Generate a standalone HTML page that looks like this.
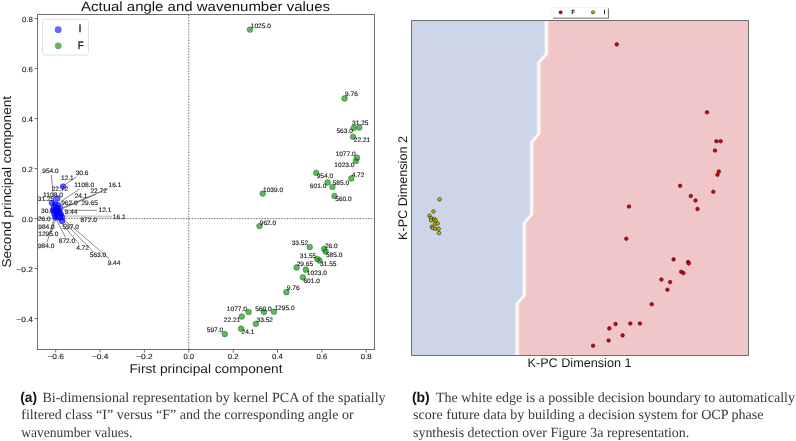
<!DOCTYPE html>
<html><head><meta charset="utf-8"><style>
html,body{margin:0;padding:0;background:#fff;}
body{width:796px;height:441px;position:relative;overflow:hidden;font-family:"Liberation Sans",sans-serif;}
svg{position:absolute;left:0;top:0;will-change:transform;} text{text-rendering:geometricPrecision;}
</style></head><body>
<svg width="796" height="441" viewBox="0 0 796 441" font-family="Liberation Sans, sans-serif">
<rect width="796" height="441" fill="#fff"/>
<text x="205.50" y="10.70" text-anchor="middle" font-size="13.46" fill="#141414" textLength="249.00" lengthAdjust="spacingAndGlyphs">Actual angle and wavenumber values</text>
<line x1="188.8" y1="14.5" x2="188.8" y2="349.5" stroke="#5a5a5a" stroke-width="0.85" stroke-dasharray="1.5,1.3"/>
<line x1="37.5" y1="218.6" x2="374.5" y2="218.6" stroke="#5a5a5a" stroke-width="0.85" stroke-dasharray="1.5,1.3"/>
<circle cx="250" cy="29.6" r="2.85" fill="rgb(0,128,0)" fill-opacity="0.6" stroke="rgb(0,128,0)" stroke-opacity="0.6" stroke-width="0.75"/>
<circle cx="344.6" cy="98.4" r="2.85" fill="rgb(0,128,0)" fill-opacity="0.6" stroke="rgb(0,128,0)" stroke-opacity="0.6" stroke-width="0.75"/>
<circle cx="353.8" cy="127.9" r="2.85" fill="rgb(0,128,0)" fill-opacity="0.6" stroke="rgb(0,128,0)" stroke-opacity="0.6" stroke-width="0.75"/>
<circle cx="359.3" cy="127.6" r="2.85" fill="rgb(0,128,0)" fill-opacity="0.6" stroke="rgb(0,128,0)" stroke-opacity="0.6" stroke-width="0.75"/>
<circle cx="353" cy="136.8" r="2.85" fill="rgb(0,128,0)" fill-opacity="0.6" stroke="rgb(0,128,0)" stroke-opacity="0.6" stroke-width="0.75"/>
<circle cx="357" cy="157.7" r="2.85" fill="rgb(0,128,0)" fill-opacity="0.6" stroke="rgb(0,128,0)" stroke-opacity="0.6" stroke-width="0.75"/>
<circle cx="356" cy="161" r="2.85" fill="rgb(0,128,0)" fill-opacity="0.6" stroke="rgb(0,128,0)" stroke-opacity="0.6" stroke-width="0.75"/>
<circle cx="351.3" cy="178.4" r="2.85" fill="rgb(0,128,0)" fill-opacity="0.6" stroke="rgb(0,128,0)" stroke-opacity="0.6" stroke-width="0.75"/>
<circle cx="316.2" cy="172.8" r="2.85" fill="rgb(0,128,0)" fill-opacity="0.6" stroke="rgb(0,128,0)" stroke-opacity="0.6" stroke-width="0.75"/>
<circle cx="327.6" cy="182.4" r="2.85" fill="rgb(0,128,0)" fill-opacity="0.6" stroke="rgb(0,128,0)" stroke-opacity="0.6" stroke-width="0.75"/>
<circle cx="332.4" cy="187" r="2.85" fill="rgb(0,128,0)" fill-opacity="0.6" stroke="rgb(0,128,0)" stroke-opacity="0.6" stroke-width="0.75"/>
<circle cx="334.4" cy="196" r="2.85" fill="rgb(0,128,0)" fill-opacity="0.6" stroke="rgb(0,128,0)" stroke-opacity="0.6" stroke-width="0.75"/>
<circle cx="262.7" cy="193.6" r="2.85" fill="rgb(0,128,0)" fill-opacity="0.6" stroke="rgb(0,128,0)" stroke-opacity="0.6" stroke-width="0.75"/>
<circle cx="259.5" cy="226" r="2.85" fill="rgb(0,128,0)" fill-opacity="0.6" stroke="rgb(0,128,0)" stroke-opacity="0.6" stroke-width="0.75"/>
<circle cx="309.7" cy="247" r="2.85" fill="rgb(0,128,0)" fill-opacity="0.6" stroke="rgb(0,128,0)" stroke-opacity="0.6" stroke-width="0.75"/>
<circle cx="324.2" cy="248.8" r="2.85" fill="rgb(0,128,0)" fill-opacity="0.6" stroke="rgb(0,128,0)" stroke-opacity="0.6" stroke-width="0.75"/>
<circle cx="325.6" cy="251.5" r="2.85" fill="rgb(0,128,0)" fill-opacity="0.6" stroke="rgb(0,128,0)" stroke-opacity="0.6" stroke-width="0.75"/>
<circle cx="317.4" cy="259" r="2.85" fill="rgb(0,128,0)" fill-opacity="0.6" stroke="rgb(0,128,0)" stroke-opacity="0.6" stroke-width="0.75"/>
<circle cx="319.5" cy="260.6" r="2.85" fill="rgb(0,128,0)" fill-opacity="0.6" stroke="rgb(0,128,0)" stroke-opacity="0.6" stroke-width="0.75"/>
<circle cx="296.6" cy="267.4" r="2.85" fill="rgb(0,128,0)" fill-opacity="0.6" stroke="rgb(0,128,0)" stroke-opacity="0.6" stroke-width="0.75"/>
<circle cx="305.9" cy="269.7" r="2.85" fill="rgb(0,128,0)" fill-opacity="0.6" stroke="rgb(0,128,0)" stroke-opacity="0.6" stroke-width="0.75"/>
<circle cx="302.9" cy="277.3" r="2.85" fill="rgb(0,128,0)" fill-opacity="0.6" stroke="rgb(0,128,0)" stroke-opacity="0.6" stroke-width="0.75"/>
<circle cx="286.4" cy="292.2" r="2.85" fill="rgb(0,128,0)" fill-opacity="0.6" stroke="rgb(0,128,0)" stroke-opacity="0.6" stroke-width="0.75"/>
<circle cx="248.6" cy="312" r="2.85" fill="rgb(0,128,0)" fill-opacity="0.6" stroke="rgb(0,128,0)" stroke-opacity="0.6" stroke-width="0.75"/>
<circle cx="264" cy="312" r="2.85" fill="rgb(0,128,0)" fill-opacity="0.6" stroke="rgb(0,128,0)" stroke-opacity="0.6" stroke-width="0.75"/>
<circle cx="273.9" cy="311.7" r="2.85" fill="rgb(0,128,0)" fill-opacity="0.6" stroke="rgb(0,128,0)" stroke-opacity="0.6" stroke-width="0.75"/>
<circle cx="241.8" cy="316.5" r="2.85" fill="rgb(0,128,0)" fill-opacity="0.6" stroke="rgb(0,128,0)" stroke-opacity="0.6" stroke-width="0.75"/>
<circle cx="255.8" cy="323.8" r="2.85" fill="rgb(0,128,0)" fill-opacity="0.6" stroke="rgb(0,128,0)" stroke-opacity="0.6" stroke-width="0.75"/>
<circle cx="241.1" cy="328.7" r="2.85" fill="rgb(0,128,0)" fill-opacity="0.6" stroke="rgb(0,128,0)" stroke-opacity="0.6" stroke-width="0.75"/>
<circle cx="224.8" cy="334.1" r="2.85" fill="rgb(0,128,0)" fill-opacity="0.6" stroke="rgb(0,128,0)" stroke-opacity="0.6" stroke-width="0.75"/>
<text x="250.75" y="27.90" font-size="6.44" fill="#1e1e1e" textLength="20.12" lengthAdjust="spacingAndGlyphs" stroke="#1e1e1e" stroke-width="0.15">1025.0</text>
<text x="345.05" y="96.00" font-size="6.44" fill="#1e1e1e" textLength="12.80" lengthAdjust="spacingAndGlyphs" stroke="#1e1e1e" stroke-width="0.15">9.76</text>
<text x="352.05" y="125.30" font-size="6.44" fill="#1e1e1e" textLength="16.46" lengthAdjust="spacingAndGlyphs" stroke="#1e1e1e" stroke-width="0.15">31.25</text>
<text x="336.45" y="132.80" font-size="6.44" fill="#1e1e1e" textLength="16.46" lengthAdjust="spacingAndGlyphs" stroke="#1e1e1e" stroke-width="0.15">563.0</text>
<text x="353.75" y="142.40" font-size="6.44" fill="#1e1e1e" textLength="16.46" lengthAdjust="spacingAndGlyphs" stroke="#1e1e1e" stroke-width="0.15">22.21</text>
<text x="335.55" y="156.30" font-size="6.44" fill="#1e1e1e" textLength="20.12" lengthAdjust="spacingAndGlyphs" stroke="#1e1e1e" stroke-width="0.15">1077.0</text>
<text x="334.35" y="166.50" font-size="6.44" fill="#1e1e1e" textLength="20.12" lengthAdjust="spacingAndGlyphs" stroke="#1e1e1e" stroke-width="0.15">1023.0</text>
<text x="351.65" y="176.70" font-size="6.44" fill="#1e1e1e" textLength="12.80" lengthAdjust="spacingAndGlyphs" stroke="#1e1e1e" stroke-width="0.15">4.72</text>
<text x="316.65" y="177.70" font-size="6.44" fill="#1e1e1e" textLength="16.46" lengthAdjust="spacingAndGlyphs" stroke="#1e1e1e" stroke-width="0.15">954.0</text>
<text x="309.85" y="188.10" font-size="6.44" fill="#1e1e1e" textLength="16.46" lengthAdjust="spacingAndGlyphs" stroke="#1e1e1e" stroke-width="0.15">601.0</text>
<text x="332.65" y="185.40" font-size="6.44" fill="#1e1e1e" textLength="16.46" lengthAdjust="spacingAndGlyphs" stroke="#1e1e1e" stroke-width="0.15">585.0</text>
<text x="335.15" y="201.00" font-size="6.44" fill="#1e1e1e" textLength="16.46" lengthAdjust="spacingAndGlyphs" stroke="#1e1e1e" stroke-width="0.15">560.0</text>
<text x="263.05" y="191.60" font-size="6.44" fill="#1e1e1e" textLength="20.12" lengthAdjust="spacingAndGlyphs" stroke="#1e1e1e" stroke-width="0.15">1039.0</text>
<text x="259.75" y="224.70" font-size="6.44" fill="#1e1e1e" textLength="16.46" lengthAdjust="spacingAndGlyphs" stroke="#1e1e1e" stroke-width="0.15">962.0</text>
<text x="291.65" y="245.20" font-size="6.44" fill="#1e1e1e" textLength="16.46" lengthAdjust="spacingAndGlyphs" stroke="#1e1e1e" stroke-width="0.15">33.52</text>
<text x="324.95" y="247.70" font-size="6.44" fill="#1e1e1e" textLength="12.80" lengthAdjust="spacingAndGlyphs" stroke="#1e1e1e" stroke-width="0.15">26.0</text>
<text x="325.95" y="256.50" font-size="6.44" fill="#1e1e1e" textLength="16.46" lengthAdjust="spacingAndGlyphs" stroke="#1e1e1e" stroke-width="0.15">585.0</text>
<text x="299.75" y="257.90" font-size="6.44" fill="#1e1e1e" textLength="16.46" lengthAdjust="spacingAndGlyphs" stroke="#1e1e1e" stroke-width="0.15">31.55</text>
<text x="320.05" y="265.60" font-size="6.44" fill="#1e1e1e" textLength="16.46" lengthAdjust="spacingAndGlyphs" stroke="#1e1e1e" stroke-width="0.15">31.55</text>
<text x="296.65" y="265.60" font-size="6.44" fill="#1e1e1e" textLength="16.46" lengthAdjust="spacingAndGlyphs" stroke="#1e1e1e" stroke-width="0.15">29.65</text>
<text x="306.85" y="274.90" font-size="6.44" fill="#1e1e1e" textLength="20.12" lengthAdjust="spacingAndGlyphs" stroke="#1e1e1e" stroke-width="0.15">1023.0</text>
<text x="303.45" y="282.70" font-size="6.44" fill="#1e1e1e" textLength="16.46" lengthAdjust="spacingAndGlyphs" stroke="#1e1e1e" stroke-width="0.15">601.0</text>
<text x="286.75" y="290.20" font-size="6.44" fill="#1e1e1e" textLength="12.80" lengthAdjust="spacingAndGlyphs" stroke="#1e1e1e" stroke-width="0.15">9.76</text>
<text x="226.85" y="310.60" font-size="6.44" fill="#1e1e1e" textLength="20.12" lengthAdjust="spacingAndGlyphs" stroke="#1e1e1e" stroke-width="0.15">1077.0</text>
<text x="255.15" y="310.60" font-size="6.44" fill="#1e1e1e" textLength="16.46" lengthAdjust="spacingAndGlyphs" stroke="#1e1e1e" stroke-width="0.15">560.0</text>
<text x="274.45" y="309.70" font-size="6.44" fill="#1e1e1e" textLength="20.12" lengthAdjust="spacingAndGlyphs" stroke="#1e1e1e" stroke-width="0.15">1295.0</text>
<text x="223.85" y="321.50" font-size="6.44" fill="#1e1e1e" textLength="16.46" lengthAdjust="spacingAndGlyphs" stroke="#1e1e1e" stroke-width="0.15">22.21</text>
<text x="256.55" y="321.50" font-size="6.44" fill="#1e1e1e" textLength="16.46" lengthAdjust="spacingAndGlyphs" stroke="#1e1e1e" stroke-width="0.15">33.52</text>
<text x="241.55" y="334.00" font-size="6.44" fill="#1e1e1e" textLength="12.80" lengthAdjust="spacingAndGlyphs" stroke="#1e1e1e" stroke-width="0.15">24.1</text>
<text x="206.75" y="332.40" font-size="6.44" fill="#1e1e1e" textLength="16.46" lengthAdjust="spacingAndGlyphs" stroke="#1e1e1e" stroke-width="0.15">597.0</text>
<text x="42.25" y="172.70" font-size="6.44" fill="#1e1e1e" textLength="16.46" lengthAdjust="spacingAndGlyphs" stroke="#1e1e1e" stroke-width="0.15">954.0</text>
<text x="75.65" y="175.00" font-size="6.44" fill="#1e1e1e" textLength="12.80" lengthAdjust="spacingAndGlyphs" stroke="#1e1e1e" stroke-width="0.15">30.6</text>
<text x="60.95" y="179.80" font-size="6.44" fill="#1e1e1e" textLength="12.80" lengthAdjust="spacingAndGlyphs" stroke="#1e1e1e" stroke-width="0.15">12.1</text>
<text x="74.25" y="186.70" font-size="6.44" fill="#1e1e1e" textLength="20.12" lengthAdjust="spacingAndGlyphs" stroke="#1e1e1e" stroke-width="0.15">1108.0</text>
<text x="108.55" y="187.00" font-size="6.44" fill="#1e1e1e" textLength="12.80" lengthAdjust="spacingAndGlyphs" stroke="#1e1e1e" stroke-width="0.15">16.1</text>
<text x="51.65" y="190.80" font-size="6.44" fill="#1e1e1e" textLength="16.46" lengthAdjust="spacingAndGlyphs" stroke="#1e1e1e" stroke-width="0.15">22.72</text>
<text x="90.45" y="193.40" font-size="6.44" fill="#1e1e1e" textLength="16.46" lengthAdjust="spacingAndGlyphs" stroke="#1e1e1e" stroke-width="0.15">22.72</text>
<text x="42.95" y="196.60" font-size="6.44" fill="#1e1e1e" textLength="20.12" lengthAdjust="spacingAndGlyphs" stroke="#1e1e1e" stroke-width="0.15">1108.0</text>
<text x="74.65" y="198.40" font-size="6.44" fill="#1e1e1e" textLength="12.80" lengthAdjust="spacingAndGlyphs" stroke="#1e1e1e" stroke-width="0.15">24.1</text>
<text x="37.75" y="201.10" font-size="6.44" fill="#1e1e1e" textLength="16.46" lengthAdjust="spacingAndGlyphs" stroke="#1e1e1e" stroke-width="0.15">31.25</text>
<text x="61.15" y="204.80" font-size="6.44" fill="#1e1e1e" textLength="16.46" lengthAdjust="spacingAndGlyphs" stroke="#1e1e1e" stroke-width="0.15">962.0</text>
<text x="81.45" y="204.70" font-size="6.44" fill="#1e1e1e" textLength="16.46" lengthAdjust="spacingAndGlyphs" stroke="#1e1e1e" stroke-width="0.15">29.65</text>
<text x="98.55" y="211.70" font-size="6.44" fill="#1e1e1e" textLength="12.80" lengthAdjust="spacingAndGlyphs" stroke="#1e1e1e" stroke-width="0.15">12.1</text>
<text x="41.05" y="213.10" font-size="6.44" fill="#1e1e1e" textLength="12.80" lengthAdjust="spacingAndGlyphs" stroke="#1e1e1e" stroke-width="0.15">30.6</text>
<text x="64.65" y="213.80" font-size="6.44" fill="#1e1e1e" textLength="12.80" lengthAdjust="spacingAndGlyphs" stroke="#1e1e1e" stroke-width="0.15">9.44</text>
<text x="112.85" y="218.60" font-size="6.44" fill="#1e1e1e" textLength="12.80" lengthAdjust="spacingAndGlyphs" stroke="#1e1e1e" stroke-width="0.15">16.1</text>
<text x="80.45" y="221.80" font-size="6.44" fill="#1e1e1e" textLength="16.46" lengthAdjust="spacingAndGlyphs" stroke="#1e1e1e" stroke-width="0.15">872.0</text>
<text x="37.95" y="220.90" font-size="6.44" fill="#1e1e1e" textLength="12.80" lengthAdjust="spacingAndGlyphs" stroke="#1e1e1e" stroke-width="0.15">26.0</text>
<text x="38.25" y="228.60" font-size="6.44" fill="#1e1e1e" textLength="16.46" lengthAdjust="spacingAndGlyphs" stroke="#1e1e1e" stroke-width="0.15">984.0</text>
<text x="62.55" y="229.20" font-size="6.44" fill="#1e1e1e" textLength="16.46" lengthAdjust="spacingAndGlyphs" stroke="#1e1e1e" stroke-width="0.15">597.0</text>
<text x="38.25" y="235.50" font-size="6.44" fill="#1e1e1e" textLength="20.12" lengthAdjust="spacingAndGlyphs" stroke="#1e1e1e" stroke-width="0.15">1295.0</text>
<text x="58.75" y="243.20" font-size="6.44" fill="#1e1e1e" textLength="16.46" lengthAdjust="spacingAndGlyphs" stroke="#1e1e1e" stroke-width="0.15">872.0</text>
<text x="37.95" y="247.70" font-size="6.44" fill="#1e1e1e" textLength="16.46" lengthAdjust="spacingAndGlyphs" stroke="#1e1e1e" stroke-width="0.15">984.0</text>
<text x="76.15" y="250.10" font-size="6.44" fill="#1e1e1e" textLength="12.80" lengthAdjust="spacingAndGlyphs" stroke="#1e1e1e" stroke-width="0.15">4.72</text>
<text x="89.75" y="257.40" font-size="6.44" fill="#1e1e1e" textLength="16.46" lengthAdjust="spacingAndGlyphs" stroke="#1e1e1e" stroke-width="0.15">563.0</text>
<text x="107.65" y="264.70" font-size="6.44" fill="#1e1e1e" textLength="12.80" lengthAdjust="spacingAndGlyphs" stroke="#1e1e1e" stroke-width="0.15">9.44</text>
<line x1="112" y1="216.2" x2="64" y2="215.8" stroke="#8a8a8a" stroke-width="0.5"/>
<line x1="112" y1="217.2" x2="64" y2="216.9" stroke="#9a9a9a" stroke-width="0.5"/>
<line x1="79.5" y1="189" x2="61" y2="201.5" stroke="#2a2a2a" stroke-width="0.55"/>
<line x1="108" y1="188.7" x2="63" y2="207.5" stroke="#2a2a2a" stroke-width="0.55"/>
<line x1="95.8" y1="194.3" x2="63" y2="208.5" stroke="#2a2a2a" stroke-width="0.55"/>
<line x1="96.8" y1="210.3" x2="64" y2="210.3" stroke="#2a2a2a" stroke-width="0.55"/>
<line x1="76.4" y1="176.8" x2="63.3" y2="185.8" stroke="#2a2a2a" stroke-width="0.55"/>
<line x1="51.3" y1="175" x2="53.5" y2="199" stroke="#2a2a2a" stroke-width="0.55"/>
<line x1="109.8" y1="259.2" x2="62" y2="218" stroke="#2a2a2a" stroke-width="0.55"/>
<line x1="94.1" y1="252.4" x2="60" y2="218" stroke="#2a2a2a" stroke-width="0.55"/>
<line x1="79.2" y1="244.3" x2="58" y2="219" stroke="#2a2a2a" stroke-width="0.55"/>
<line x1="65.6" y1="237.4" x2="56" y2="219" stroke="#2a2a2a" stroke-width="0.55"/>
<line x1="47.2" y1="242" x2="54" y2="219" stroke="#2a2a2a" stroke-width="0.55"/>
<line x1="50.6" y1="233.6" x2="55.5" y2="219" stroke="#2a2a2a" stroke-width="0.55"/>
<ellipse cx="57" cy="211" rx="4.2" ry="6.5" transform="rotate(-15 57 211)" fill="#0000a0" fill-opacity="0.5"/>
<circle cx="63" cy="186.6" r="2.85" fill="rgb(0,0,255)" fill-opacity="0.6" stroke="rgb(0,0,255)" stroke-opacity="0.6" stroke-width="0.75"/>
<circle cx="57.3" cy="198.4" r="2.85" fill="rgb(0,0,255)" fill-opacity="0.6" stroke="rgb(0,0,255)" stroke-opacity="0.6" stroke-width="0.75"/>
<circle cx="51.9" cy="202.8" r="2.85" fill="rgb(0,0,255)" fill-opacity="0.6" stroke="rgb(0,0,255)" stroke-opacity="0.6" stroke-width="0.75"/>
<circle cx="62" cy="220.9" r="2.85" fill="rgb(0,0,255)" fill-opacity="0.6" stroke="rgb(0,0,255)" stroke-opacity="0.6" stroke-width="0.75"/>
<circle cx="55" cy="204" r="2.85" fill="rgb(0,0,255)" fill-opacity="0.6" stroke="rgb(0,0,255)" stroke-opacity="0.6" stroke-width="0.75"/>
<circle cx="58" cy="205" r="2.85" fill="rgb(0,0,255)" fill-opacity="0.6" stroke="rgb(0,0,255)" stroke-opacity="0.6" stroke-width="0.75"/>
<circle cx="54" cy="207" r="2.85" fill="rgb(0,0,255)" fill-opacity="0.6" stroke="rgb(0,0,255)" stroke-opacity="0.6" stroke-width="0.75"/>
<circle cx="57" cy="208" r="2.85" fill="rgb(0,0,255)" fill-opacity="0.6" stroke="rgb(0,0,255)" stroke-opacity="0.6" stroke-width="0.75"/>
<circle cx="60" cy="208" r="2.85" fill="rgb(0,0,255)" fill-opacity="0.6" stroke="rgb(0,0,255)" stroke-opacity="0.6" stroke-width="0.75"/>
<circle cx="53" cy="210" r="2.85" fill="rgb(0,0,255)" fill-opacity="0.6" stroke="rgb(0,0,255)" stroke-opacity="0.6" stroke-width="0.75"/>
<circle cx="56" cy="211" r="2.85" fill="rgb(0,0,255)" fill-opacity="0.6" stroke="rgb(0,0,255)" stroke-opacity="0.6" stroke-width="0.75"/>
<circle cx="59" cy="211" r="2.85" fill="rgb(0,0,255)" fill-opacity="0.6" stroke="rgb(0,0,255)" stroke-opacity="0.6" stroke-width="0.75"/>
<circle cx="54" cy="213" r="2.85" fill="rgb(0,0,255)" fill-opacity="0.6" stroke="rgb(0,0,255)" stroke-opacity="0.6" stroke-width="0.75"/>
<circle cx="57" cy="214" r="2.85" fill="rgb(0,0,255)" fill-opacity="0.6" stroke="rgb(0,0,255)" stroke-opacity="0.6" stroke-width="0.75"/>
<circle cx="60" cy="213" r="2.85" fill="rgb(0,0,255)" fill-opacity="0.6" stroke="rgb(0,0,255)" stroke-opacity="0.6" stroke-width="0.75"/>
<circle cx="55" cy="216" r="2.85" fill="rgb(0,0,255)" fill-opacity="0.6" stroke="rgb(0,0,255)" stroke-opacity="0.6" stroke-width="0.75"/>
<circle cx="58" cy="216" r="2.85" fill="rgb(0,0,255)" fill-opacity="0.6" stroke="rgb(0,0,255)" stroke-opacity="0.6" stroke-width="0.75"/>
<circle cx="61" cy="215" r="2.85" fill="rgb(0,0,255)" fill-opacity="0.6" stroke="rgb(0,0,255)" stroke-opacity="0.6" stroke-width="0.75"/>
<circle cx="56" cy="217.5" r="2.85" fill="rgb(0,0,255)" fill-opacity="0.6" stroke="rgb(0,0,255)" stroke-opacity="0.6" stroke-width="0.75"/>
<circle cx="59.5" cy="217.5" r="2.85" fill="rgb(0,0,255)" fill-opacity="0.6" stroke="rgb(0,0,255)" stroke-opacity="0.6" stroke-width="0.75"/>
<circle cx="62" cy="217.2" r="2.85" fill="rgb(0,0,255)" fill-opacity="0.6" stroke="rgb(0,0,255)" stroke-opacity="0.6" stroke-width="0.75"/>
<rect x="37.5" y="14.5" width="337.0" height="335.0" fill="none" stroke="#707070" stroke-width="1"/>
<line x1="55.7" y1="349.5" x2="55.7" y2="352.5" stroke="#4a4a4a" stroke-width="0.8"/>
<text x="55.72" y="359.40" text-anchor="middle" font-size="7.48" fill="#1e1e1e" textLength="16.51" lengthAdjust="spacingAndGlyphs" stroke="#1e1e1e" stroke-width="0.12">−0.6</text>
<line x1="100.1" y1="349.5" x2="100.1" y2="352.5" stroke="#4a4a4a" stroke-width="0.8"/>
<text x="100.08" y="359.40" text-anchor="middle" font-size="7.48" fill="#1e1e1e" textLength="16.51" lengthAdjust="spacingAndGlyphs" stroke="#1e1e1e" stroke-width="0.12">−0.4</text>
<line x1="144.4" y1="349.5" x2="144.4" y2="352.5" stroke="#4a4a4a" stroke-width="0.8"/>
<text x="144.44" y="359.40" text-anchor="middle" font-size="7.48" fill="#1e1e1e" textLength="16.51" lengthAdjust="spacingAndGlyphs" stroke="#1e1e1e" stroke-width="0.12">−0.2</text>
<line x1="188.8" y1="349.5" x2="188.8" y2="352.5" stroke="#4a4a4a" stroke-width="0.8"/>
<text x="188.80" y="359.40" text-anchor="middle" font-size="7.48" fill="#1e1e1e" textLength="10.81" lengthAdjust="spacingAndGlyphs" stroke="#1e1e1e" stroke-width="0.12">0.0</text>
<line x1="233.2" y1="349.5" x2="233.2" y2="352.5" stroke="#4a4a4a" stroke-width="0.8"/>
<text x="233.16" y="359.40" text-anchor="middle" font-size="7.48" fill="#1e1e1e" textLength="10.81" lengthAdjust="spacingAndGlyphs" stroke="#1e1e1e" stroke-width="0.12">0.2</text>
<line x1="277.5" y1="349.5" x2="277.5" y2="352.5" stroke="#4a4a4a" stroke-width="0.8"/>
<text x="277.52" y="359.40" text-anchor="middle" font-size="7.48" fill="#1e1e1e" textLength="10.81" lengthAdjust="spacingAndGlyphs" stroke="#1e1e1e" stroke-width="0.12">0.4</text>
<line x1="321.9" y1="349.5" x2="321.9" y2="352.5" stroke="#4a4a4a" stroke-width="0.8"/>
<text x="321.88" y="359.40" text-anchor="middle" font-size="7.48" fill="#1e1e1e" textLength="10.81" lengthAdjust="spacingAndGlyphs" stroke="#1e1e1e" stroke-width="0.12">0.6</text>
<line x1="366.2" y1="349.5" x2="366.2" y2="352.5" stroke="#4a4a4a" stroke-width="0.8"/>
<text x="366.24" y="359.40" text-anchor="middle" font-size="7.48" fill="#1e1e1e" textLength="10.81" lengthAdjust="spacingAndGlyphs" stroke="#1e1e1e" stroke-width="0.12">0.8</text>
<line x1="34.5" y1="318.6" x2="37.5" y2="318.6" stroke="#4a4a4a" stroke-width="0.8"/>
<text x="32.90" y="321.60" text-anchor="end" font-size="7.48" fill="#1e1e1e" textLength="16.51" lengthAdjust="spacingAndGlyphs" stroke="#1e1e1e" stroke-width="0.12">−0.4</text>
<line x1="34.5" y1="268.6" x2="37.5" y2="268.6" stroke="#4a4a4a" stroke-width="0.8"/>
<text x="32.90" y="271.60" text-anchor="end" font-size="7.48" fill="#1e1e1e" textLength="16.51" lengthAdjust="spacingAndGlyphs" stroke="#1e1e1e" stroke-width="0.12">−0.2</text>
<line x1="34.5" y1="218.6" x2="37.5" y2="218.6" stroke="#4a4a4a" stroke-width="0.8"/>
<text x="32.90" y="221.60" text-anchor="end" font-size="7.48" fill="#1e1e1e" textLength="10.81" lengthAdjust="spacingAndGlyphs" stroke="#1e1e1e" stroke-width="0.12">0.0</text>
<line x1="34.5" y1="168.6" x2="37.5" y2="168.6" stroke="#4a4a4a" stroke-width="0.8"/>
<text x="32.90" y="171.60" text-anchor="end" font-size="7.48" fill="#1e1e1e" textLength="10.81" lengthAdjust="spacingAndGlyphs" stroke="#1e1e1e" stroke-width="0.12">0.2</text>
<line x1="34.5" y1="118.6" x2="37.5" y2="118.6" stroke="#4a4a4a" stroke-width="0.8"/>
<text x="32.90" y="121.60" text-anchor="end" font-size="7.48" fill="#1e1e1e" textLength="10.81" lengthAdjust="spacingAndGlyphs" stroke="#1e1e1e" stroke-width="0.12">0.4</text>
<line x1="34.5" y1="68.6" x2="37.5" y2="68.6" stroke="#4a4a4a" stroke-width="0.8"/>
<text x="32.90" y="71.60" text-anchor="end" font-size="7.48" fill="#1e1e1e" textLength="10.81" lengthAdjust="spacingAndGlyphs" stroke="#1e1e1e" stroke-width="0.12">0.6</text>
<line x1="34.5" y1="18.6" x2="37.5" y2="18.6" stroke="#4a4a4a" stroke-width="0.8"/>
<text x="32.90" y="21.60" text-anchor="end" font-size="7.48" fill="#1e1e1e" textLength="10.81" lengthAdjust="spacingAndGlyphs" stroke="#1e1e1e" stroke-width="0.12">0.8</text>
<text x="206.00" y="372.60" text-anchor="middle" font-size="12.76" fill="#1a1a1a" textLength="153.00" lengthAdjust="spacingAndGlyphs">First principal component</text>
<g transform="translate(11.2,181.75) rotate(-90)"><text x="0.00" y="0.00" text-anchor="middle" font-size="12.74" fill="#1a1a1a" textLength="171.70" lengthAdjust="spacingAndGlyphs">Second principal component</text></g>
<rect x="42.5" y="19.4" width="46" height="35.6" rx="2.5" fill="#fff" fill-opacity="0.8" stroke="#d8d8d8" stroke-width="0.8"/>
<circle cx="58.2" cy="29.7" r="3.4" fill="rgb(0,0,255)" fill-opacity="0.6"/>
<circle cx="58.2" cy="45.8" r="3.4" fill="rgb(0,128,0)" fill-opacity="0.6"/>
<text x="78.40" y="32.40" font-size="10.81" fill="#000" textLength="3.01" lengthAdjust="spacingAndGlyphs" stroke="#000" stroke-width="0.25">I</text>
<text x="77.80" y="48.60" font-size="10.81" fill="#000" textLength="5.87" lengthAdjust="spacingAndGlyphs" stroke="#000" stroke-width="0.25">F</text>
<polygon points="411.5,20.5 546.3,20.5 546.3,54 538.7,62.6 538.7,133.6 531.5,142.2 531.5,214.5 524.2,222.7 524.2,295.4 517.1,303.6 517.1,355.5 411.5,355.5" fill="#cdd6e9"/>
<polygon points="546.3,20.5 546.3,54 538.7,62.6 538.7,133.6 531.5,142.2 531.5,214.5 524.2,222.7 524.2,295.4 517.1,303.6 517.1,355.5 748.5,355.5 748.5,20.5" fill="#f0c6c8"/>
<polyline points="545.0,20.5 545.0,54 537.4000000000001,62.6 537.4000000000001,133.6 530.2,142.2 530.2,214.5 522.9000000000001,222.7 522.9000000000001,295.4 515.8000000000001,303.6 515.8000000000001,355.5" fill="none" stroke="#e2eef5" stroke-width="1.4"/>
<polyline points="547.5999999999999,20.5 547.5999999999999,54 540.0,62.6 540.0,133.6 532.8,142.2 532.8,214.5 525.5,222.7 525.5,295.4 518.4,303.6 518.4,355.5" fill="none" stroke="#fbf1d6" stroke-width="1.4"/>
<polyline points="546.3,20.5 546.3,54 538.7,62.6 538.7,133.6 531.5,142.2 531.5,214.5 524.2,222.7 524.2,295.4 517.1,303.6 517.1,355.5" fill="none" stroke="#ffffff" stroke-width="1.4"/>
<circle cx="616.8" cy="44.4" r="1.8" fill="#dd0010" stroke="#000" stroke-width="0.5"/>
<circle cx="707" cy="112.3" r="1.8" fill="#dd0010" stroke="#000" stroke-width="0.5"/>
<circle cx="716.4" cy="141.2" r="1.8" fill="#dd0010" stroke="#000" stroke-width="0.5"/>
<circle cx="720.6" cy="141.2" r="1.8" fill="#dd0010" stroke="#000" stroke-width="0.5"/>
<circle cx="715" cy="150.5" r="1.8" fill="#dd0010" stroke="#000" stroke-width="0.5"/>
<circle cx="718.8" cy="171.5" r="1.8" fill="#dd0010" stroke="#000" stroke-width="0.5"/>
<circle cx="717.5" cy="174.8" r="1.8" fill="#dd0010" stroke="#000" stroke-width="0.5"/>
<circle cx="680.1" cy="185.8" r="1.8" fill="#dd0010" stroke="#000" stroke-width="0.5"/>
<circle cx="713.3" cy="191.8" r="1.8" fill="#dd0010" stroke="#000" stroke-width="0.5"/>
<circle cx="690.8" cy="196" r="1.8" fill="#dd0010" stroke="#000" stroke-width="0.5"/>
<circle cx="695.5" cy="200.5" r="1.8" fill="#dd0010" stroke="#000" stroke-width="0.5"/>
<circle cx="697.5" cy="209" r="1.8" fill="#dd0010" stroke="#000" stroke-width="0.5"/>
<circle cx="629" cy="206.5" r="1.8" fill="#dd0010" stroke="#000" stroke-width="0.5"/>
<circle cx="626.3" cy="238.7" r="1.8" fill="#dd0010" stroke="#000" stroke-width="0.5"/>
<circle cx="673.6" cy="259.4" r="1.8" fill="#dd0010" stroke="#000" stroke-width="0.5"/>
<circle cx="688.1" cy="262" r="1.8" fill="#dd0010" stroke="#000" stroke-width="0.5"/>
<circle cx="688.8" cy="263.4" r="1.8" fill="#dd0010" stroke="#000" stroke-width="0.5"/>
<circle cx="681.2" cy="271.8" r="1.8" fill="#dd0010" stroke="#000" stroke-width="0.5"/>
<circle cx="683.4" cy="273" r="1.8" fill="#dd0010" stroke="#000" stroke-width="0.5"/>
<circle cx="661.4" cy="279.5" r="1.8" fill="#dd0010" stroke="#000" stroke-width="0.5"/>
<circle cx="670.1" cy="282.1" r="1.8" fill="#dd0010" stroke="#000" stroke-width="0.5"/>
<circle cx="667.4" cy="289.7" r="1.8" fill="#dd0010" stroke="#000" stroke-width="0.5"/>
<circle cx="651.7" cy="304.2" r="1.8" fill="#dd0010" stroke="#000" stroke-width="0.5"/>
<circle cx="615.5" cy="324" r="1.8" fill="#dd0010" stroke="#000" stroke-width="0.5"/>
<circle cx="630.3" cy="323.5" r="1.8" fill="#dd0010" stroke="#000" stroke-width="0.5"/>
<circle cx="639.9" cy="323.5" r="1.8" fill="#dd0010" stroke="#000" stroke-width="0.5"/>
<circle cx="609.3" cy="328.4" r="1.8" fill="#dd0010" stroke="#000" stroke-width="0.5"/>
<circle cx="622.6" cy="335.4" r="1.8" fill="#dd0010" stroke="#000" stroke-width="0.5"/>
<circle cx="608.6" cy="340.5" r="1.8" fill="#dd0010" stroke="#000" stroke-width="0.5"/>
<circle cx="593.1" cy="345.7" r="1.8" fill="#dd0010" stroke="#000" stroke-width="0.5"/>
<circle cx="439.5" cy="199.4" r="1.8" fill="#bcb800" stroke="#000" stroke-width="0.5"/>
<circle cx="433.4" cy="211.5" r="1.8" fill="#bcb800" stroke="#000" stroke-width="0.5"/>
<circle cx="429.5" cy="215.8" r="1.8" fill="#bcb800" stroke="#000" stroke-width="0.5"/>
<circle cx="431" cy="218" r="1.8" fill="#bcb800" stroke="#000" stroke-width="0.5"/>
<circle cx="431.1" cy="220.4" r="1.8" fill="#bcb800" stroke="#000" stroke-width="0.5"/>
<circle cx="434.5" cy="219.2" r="1.8" fill="#bcb800" stroke="#000" stroke-width="0.5"/>
<circle cx="435.6" cy="220.4" r="1.8" fill="#bcb800" stroke="#000" stroke-width="0.5"/>
<circle cx="435.1" cy="223.6" r="1.8" fill="#bcb800" stroke="#000" stroke-width="0.5"/>
<circle cx="437.6" cy="223.6" r="1.8" fill="#bcb800" stroke="#000" stroke-width="0.5"/>
<circle cx="431.9" cy="226.8" r="1.8" fill="#bcb800" stroke="#000" stroke-width="0.5"/>
<circle cx="432.7" cy="228" r="1.8" fill="#bcb800" stroke="#000" stroke-width="0.5"/>
<circle cx="435.3" cy="228.8" r="1.8" fill="#bcb800" stroke="#000" stroke-width="0.5"/>
<circle cx="438.7" cy="228.8" r="1.8" fill="#bcb800" stroke="#000" stroke-width="0.5"/>
<circle cx="439" cy="233" r="1.8" fill="#bcb800" stroke="#000" stroke-width="0.5"/>
<rect x="411.5" y="20.5" width="337.0" height="335.0" fill="none" stroke="#6e6e6e" stroke-width="1"/>
<rect x="553" y="8.4" width="55.9" height="10.1" fill="#555"/>
<rect x="552" y="7.4" width="55.9" height="10.1" fill="#fff" stroke="#e4e4e4" stroke-width="0.5"/>
<circle cx="560.6" cy="12.3" r="1.6" fill="#dd0010" stroke="#000" stroke-width="0.5"/>
<circle cx="593" cy="12.3" r="1.6" fill="#bcb800" stroke="#000" stroke-width="0.5"/>
<text x="571.60" y="14.30" font-size="5.94" fill="#000" textLength="3.22" lengthAdjust="spacingAndGlyphs" stroke="#000" stroke-width="0.3">F</text>
<text x="603.80" y="14.30" font-size="5.94" fill="#000" textLength="1.65" lengthAdjust="spacingAndGlyphs" stroke="#000" stroke-width="0.3">I</text>
<text x="579.50" y="367.40" text-anchor="middle" font-size="12.53" fill="#1a1a1a" textLength="104.00" lengthAdjust="spacingAndGlyphs">K-PC Dimension 1</text>
<g transform="translate(406.6,188) rotate(-90)"><text x="0.00" y="0.00" text-anchor="middle" font-size="12.53" fill="#1a1a1a" textLength="104.00" lengthAdjust="spacingAndGlyphs">K-PC Dimension 2</text></g>
<text x="20.3" y="401.8" font-size="14" font-weight="bold" fill="#111" textLength="16.8" lengthAdjust="spacingAndGlyphs">(a)</text>
<text x="42.4" y="401.8" font-size="14" fill="#383838" font-family="Liberation Serif, serif" textLength="343.2" lengthAdjust="spacingAndGlyphs">Bi-dimensional representation by kernel PCA of the spatially</text>
<text x="21.3" y="419.3" font-size="14" fill="#383838" font-family="Liberation Serif, serif" textLength="332.3" lengthAdjust="spacingAndGlyphs">filtered class “I” versus “F” and the corresponding angle or</text>
<text x="21.3" y="436.5" font-size="14" fill="#383838" font-family="Liberation Serif, serif" textLength="111.0" lengthAdjust="spacingAndGlyphs">wavenumber values.</text>
<text x="411.9" y="401.8" font-size="14" font-weight="bold" fill="#111" textLength="17.8" lengthAdjust="spacingAndGlyphs">(b)</text>
<text x="435.9" y="401.8" font-size="14" fill="#383838" font-family="Liberation Serif, serif" textLength="359.1" lengthAdjust="spacingAndGlyphs">The white edge is a possible decision boundary to automatically</text>
<text x="413.0" y="419.3" font-size="14" fill="#383838" font-family="Liberation Serif, serif" textLength="350.6" lengthAdjust="spacingAndGlyphs">score future data by building a decision system for OCP phase</text>
<text x="413.0" y="436.5" font-size="14" fill="#383838" font-family="Liberation Serif, serif" textLength="276.3" lengthAdjust="spacingAndGlyphs">synthesis detection over Figure 3a representation.</text>
</svg>
</body></html>
